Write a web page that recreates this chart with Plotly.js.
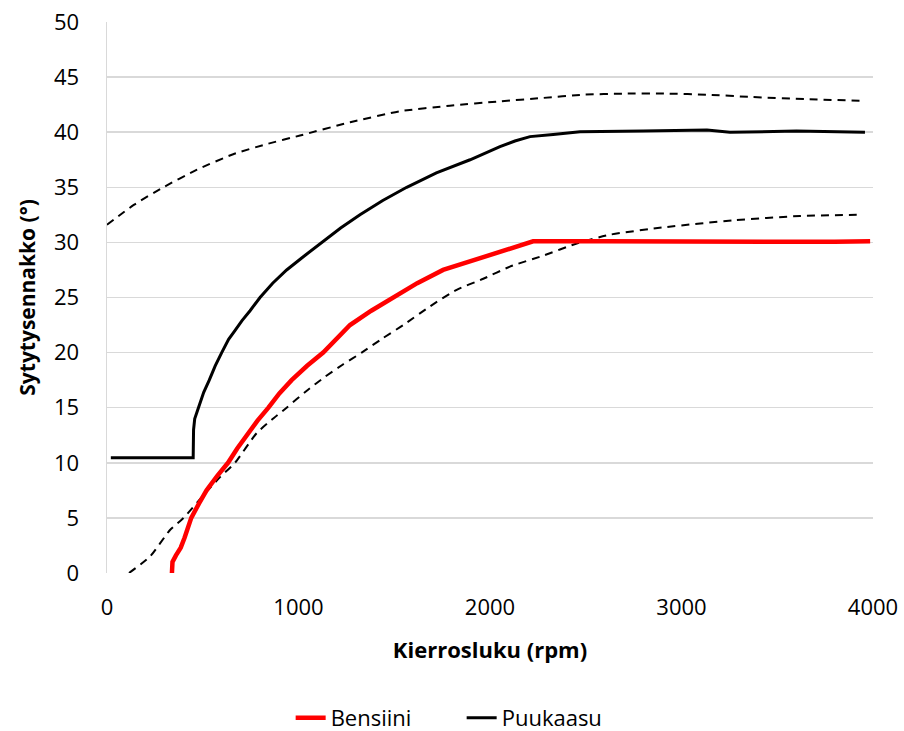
<!DOCTYPE html>
<html>
<head>
<meta charset="utf-8">
<script src="https://cdn.plot.ly/plotly-3.0.1.min.js"></script>
<style>html,body{margin:0;padding:0;background:#fff;}#chart{width:904px;height:731px;}</style>
</head>
<body>
<div id="chart"></div>
<script>
// Bensiini (red)
const bensiiniRpm = [339, 342, 360, 385, 405, 440, 480, 520, 575, 632, 680, 729, 785, 843, 900, 964, 1045, 1129, 1200, 1269, 1380, 1494, 1620, 1755, 1900, 2052, 2140, 2225, 2600, 3000, 3400, 3800, 3985];
const bensiiniVal = [0, 1.0, 1.6, 2.3, 3.2, 5.0, 6.3, 7.5, 8.8, 10.0, 11.3, 12.5, 13.8, 15.0, 16.3, 17.5, 18.8, 20.0, 21.3, 22.5, 23.8, 25.0, 26.3, 27.5, 28.3, 29.2, 29.6, 30.1, 30.1, 30.05, 30.1, 30.05, 30.1];

// Puukaasu (black)
const puukaasuRpm = [20, 200, 450, 452, 458, 470, 482, 505, 534, 565, 599, 635, 668, 705, 747, 799, 865, 938, 1025, 1121, 1220, 1321, 1440, 1565, 1720, 1896, 1970, 2052, 2130, 2209, 2330, 2470, 2800, 3133, 3253, 3600, 3958];
const puukaasuVal = [10.45, 10.45, 10.45, 13.0, 14.0, 14.6, 15.2, 16.4, 17.5, 18.8, 20.0, 21.2, 22.0, 22.9, 23.8, 25.0, 26.3, 27.5, 28.7, 30.0, 31.3, 32.5, 33.8, 35.0, 36.3, 37.5, 38.1, 38.7, 39.2, 39.6, 39.8, 40.05, 40.1, 40.2, 40.0, 40.1, 40.0];

// Upper dashed curve
const upperRpm = [0, 140, 294, 470, 659, 830, 1008, 1270, 1530, 1790, 2052, 2270, 2486, 2700, 2924, 3140, 3358, 3650, 3958];
const upperVal = [31.6, 33.4, 35.0, 36.6, 38.0, 38.9, 39.7, 40.9, 41.9, 42.4, 42.8, 43.1, 43.4, 43.5, 43.5, 43.4, 43.2, 43.0, 42.85];

// Lower dashed curve
const lowerRpm = [115, 225, 329, 400, 521, 590, 668, 782, 860, 938, 1040, 1138, 1230, 1330, 1440, 1547, 1687, 1826, 1965, 2104, 2278, 2453, 2627, 2923, 3271, 3619, 3915];
const lowerVal = [0, 1.5, 3.9, 5.0, 7.4, 8.7, 10.0, 12.7, 13.9, 15.0, 16.5, 17.8, 18.9, 20.0, 21.3, 22.5, 24.2, 25.7, 26.7, 27.8, 28.8, 29.9, 30.7, 31.4, 32.0, 32.4, 32.5];

const xTicks = [0, 1000, 2000, 3000, 4000];
const yTicks = [0, 5, 10, 15, 20, 25, 30, 35, 40, 45, 50];

const FONT = '"Open Sans", Lato, sans-serif';

const traces = [
  {x: upperRpm, y: upperVal, mode: 'lines', line: {color: '#000', width: 2, dash: '8px,6px', shape: 'spline', smoothing: 0.6}, showlegend: false, hoverinfo: 'skip'},
  {x: lowerRpm, y: lowerVal, mode: 'lines', line: {color: '#000', width: 2, dash: '8px,6px', shape: 'spline', smoothing: 0.6}, showlegend: false, hoverinfo: 'skip'},
  {x: bensiiniRpm, y: bensiiniVal, name: 'Bensiini', mode: 'lines', line: {color: '#ff0000', width: 4.5}},
  {x: puukaasuRpm, y: puukaasuVal, name: 'Puukaasu', mode: 'lines', line: {color: '#000000', width: 3}}
];

const layout = {
  width: 904, height: 731,
  margin: {l: 107, r: 31, t: 22, b: 158, autoexpand: false},
  paper_bgcolor: '#fff', plot_bgcolor: '#fff',
  font: {family: FONT, size: 22, color: '#000'},
  showlegend: true,
  legend: {orientation: 'h', x: 0.463, xanchor: 'center', y: -0.263, yanchor: 'middle', font: {size: 22}, traceorder: 'normal', entrywidth: 126, entrywidthmode: 'pixels'},
  xaxis: {
    range: [0, 4000], tickvals: xTicks, ticktext: xTicks.map(String),
    showgrid: false, zeroline: false, showline: false, ticks: '',
    ticklabelstandoff: 19,
    title: {text: '<b>Kierrosluku (rpm)</b>', font: {size: 22}, standoff: 22}
  },
  yaxis: {
    range: [0, 50], tickvals: yTicks, ticktext: yTicks.map(String),
    showgrid: true, gridcolor: '#d9d9d9', gridwidth: 1.5,
    zeroline: false, showline: true, linecolor: '#d9d9d9', linewidth: 1.5, ticks: '',
    ticklabelstandoff: 22,
    title: {text: '<b>Sytytysennakko (°)</b>', font: {size: 21}, standoff: 12}
  }
};

Plotly.newPlot('chart', traces, layout, {displayModeBar: false, staticPlot: true});
</script>
</body>
</html>
